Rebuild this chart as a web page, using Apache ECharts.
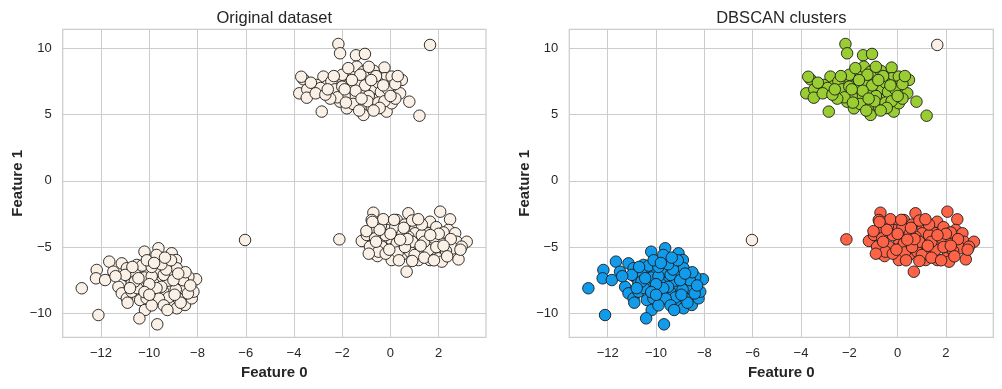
<!DOCTYPE html>
<html>
<head>
<meta charset="utf-8">
<script src="https://cdn.jsdelivr.net/npm/echarts@6/dist/echarts.min.js"></script>
<style>
html,body{margin:0;padding:0;background:#ffffff;}
#chart{width:1002px;height:389px;}
</style>
</head>
<body>
<div id="chart"></div>
<script>
// ---- data ----
const titles = ['Original dataset', 'DBSCAN clusters'];
const xTicks = [-12, -10, -8, -6, -4, -2, 0, 2];
const yTicks = [-10, -5, 0, 5, 10];
const xName = 'Feature 0';
const yName = 'Feature 1';

// cluster at top (green on the right plot)
const clusterTop = [
  [-2.16,10.32],[-2.09,9.62],[-1.43,9.47],[-1.06,9.57],
  [-3.61,7.66],[-3.70,7.85],[-3.78,6.6],[-3.45,6.9],[-3.47,6.27],[-2.85,5.22],[-2.78,7.86],[-2.64,7.15],
  [-2.57,6.72],[-3.06,7.23],[-2.23,7.36],[-2.09,6.6],[-2.09,5.97],[-1.81,5.47],[-1.95,7.61],
  [-1.81,6.78],[-1.61,8.11],[-1.54,7.86],[-1.40,8.61],[-1.12,8.23],[-1.47,7.1],[-1.40,6.48],
  [-1.33,5.97],[-1.12,6.72],[-1.12,5.59],[-1.12,4.97],[-0.85,7.23],[-0.78,5.59],[-0.64,6.98],
  [-0.64,6.1],[-0.43,8.11],[-0.25,8.54],[-0.23,7.74],[-0.30,6.35],[-0.16,5.22],[0.05,7.86],
  [-0.02,7.1],[0.12,6.55],[0.05,5.85],[0.47,7.61],[0.40,6.6],[0.78,5.97],[1.20,4.91],
  [-2.9,7.0],[-2.45,7.5],[-2.3,6.9],[-1.7,7.3],[-1.3,7.5],[-1.0,7.9],[-0.9,6.4],[-0.5,7.4],
  [-0.4,6.7],[-1.6,6.2],[-1.9,6.4],[-2.2,6.3],[-0.7,8.3],[-1.25,8.0],[-0.1,6.9],[0.2,7.3],
  [-3.3,7.4],[-2.5,6.2],[-1.55,5.8],[-0.95,6.0],[-0.5,5.9],[-2.0,8.0],[-1.75,8.5],[-0.9,8.6],
  [0.3,7.9],[-3.1,6.6],[-2.7,6.5],[-1.05,7.2],[-0.25,6.0],[-1.45,6.8],[-0.6,7.9],[-2.35,7.9],
  [-1.85,5.9],[-0.45,5.5],[0.2,6.2],[-1.2,6.2],[-0.8,7.6],[-2.0,7.1],[-1.6,7.6],[-0.3,7.2],
  [-1.3,5.3],[-2.6,6.9],[0.0,6.4],[-0.7,5.3],[-1.9,6.9]
];

// cluster at bottom right (red on the right plot)
const clusterRight = [
  [-2.12,-4.42],[-1.19,-4.54],[-0.71,-2.41],[-0.78,-2.96],[-0.71,-3.58],[-0.98,-4.09],[-0.64,-4.34],
  [-0.71,-5.47],[-0.54,-5.68],[-0.36,-4.97],[-0.08,-3.21],[0.26,-2.96],[0.74,-2.45],[0.40,-3.71],
  [0.05,-4.47],[0.12,-5.09],[0.47,-5.6],[0.67,-6.86],[1.02,-3.46],[1.02,-3.96],[1.09,-4.72],
  [1.16,-5.98],[1.23,-5.35],[1.64,-3.09],[1.57,-3.96],[1.64,-4.85],[1.64,-5.98],[1.98,-5.85],
  [2.06,-2.33],[2.47,-2.91],[2.40,-3.71],[2.13,-4.72],[2.13,-6.1],[2.68,-3.96],[2.75,-4.6],
  [2.61,-5.09],[2.82,-5.93],[3.16,-4.6],[2.95,-4.97],[-0.85,-4.97],[-0.50,-5.35],[0.74,-4.22],
  [0.26,-4.72],[-0.16,-3.71],[1.57,-5.22],[0.81,-5.35],[0.05,-5.98],
  [-0.4,-3.4],[-0.2,-4.1],[0.2,-3.5],[0.6,-3.3],[0.5,-4.0],[0.9,-4.6],[1.3,-4.1],[1.4,-4.6],
  [1.8,-4.3],[1.9,-3.5],[2.2,-3.9],[2.3,-5.3],[1.9,-5.0],[0.3,-5.4],[-0.2,-5.5],[0.6,-5.0],
  [1.0,-5.6],[1.4,-5.8],[-0.9,-5.5],[-0.6,-4.6],[0.0,-4.0],[0.9,-3.0],[1.3,-3.3],[2.0,-4.0],
  [2.5,-4.4],[-0.3,-2.9],[0.35,-6.0],[0.9,-6.05],[1.8,-6.0],[2.2,-4.9],[2.9,-5.2],[-0.45,-3.7],
  [0.15,-2.95],[-1.0,-3.8],[1.15,-2.9],[0.7,-4.4],[1.65,-4.1],[-0.75,-3.1],[2.35,-5.7],
  [0.4,-4.45],[-0.05,-5.2],[1.25,-4.9],[0.55,-3.55]
];

// cluster at bottom left (blue on the right plot)
const clusterLeft = [
  [-12.80,-8.11],[-12.11,-10.13],[-12.18,-6.73],[-12.21,-7.36],[-11.83,-7.49],[-11.66,-6.1],
  [-11.49,-6.86],[-11.14,-6.23],[-11.28,-8.0],[-11.14,-8.49],[-10.93,-8.87],[-10.93,-6.6],
  [-10.87,-7.24],[-10.73,-7.74],[-10.73,-8.37],[-10.38,-9.0],[-10.20,-5.35],[-10.38,-6.73],
  [-10.31,-7.61],[-10.18,-9.75],[-10.41,-10.38],[-10.04,-6.98],[-9.97,-8.37],[-9.83,-9.0],
  [-9.62,-5.09],[-9.62,-6.1],[-9.67,-10.83],[-9.55,-7.49],[-9.69,-6.86],[-9.07,-5.47],
  [-8.89,-5.98],[-9.14,-6.48],[-9.07,-7.11],[-9.28,-7.74],[-9.14,-8.37],[-9.14,-9.25],
  [-8.86,-9.62],[-8.72,-7.74],[-8.59,-8.11],[-8.80,-8.87],[-8.52,-9.37],[-8.24,-8.87],
  [-8.17,-8.37],[-8.06,-7.43],[-8.38,-7.24],[-10.52,-6.35],[-9.83,-7.74],[-9.42,-8.37],
  [-10.11,-8.87],[-8.86,-6.6],
  [-10.6,-7.0],[-10.2,-7.3],[-9.9,-7.2],[-9.4,-7.1],[-9.3,-6.7],[-9.5,-8.0],[-9.7,-8.1],
  [-10.0,-7.8],[-10.5,-8.1],[-10.6,-7.6],[-9.2,-8.8],[-8.9,-8.2],[-8.6,-7.5],[-8.4,-8.5],
  [-9.0,-7.5],[-10.3,-6.4],[-9.9,-6.5],[-9.5,-6.3],[-10.8,-8.1],[-9.6,-8.9],[-10.2,-8.4],
  [-11.0,-7.1],[-8.7,-9.2],[-9.4,-9.4],[-9.9,-9.4],[-8.5,-6.9],[-9.1,-6.0],[-10.1,-6.0],
  [-10.7,-6.5],[-8.3,-7.9],[-9.7,-5.6],[-11.4,-7.2],[-10.9,-9.2],[-9.25,-9.75],[-8.95,-8.6],
  [-10.45,-7.35],[-9.8,-6.2],[-10.0,-8.6],[-8.8,-7.0],[-9.35,-5.8]
];

// points labelled as noise
const noisePoints = [[1.64,10.25],[-6.03,-4.47]];

const allPoints = clusterTop.concat(clusterRight, clusterLeft, noisePoints);

// ---- styling ----
const FONT = '"Liberation Sans", Arial, sans-serif';
const TXT = '#262626';
const GRIDC = '#cccccc';
const NOISE = '#faf0e6';
const EDGE = '#1c1c1c';
const xRange = [-13.59, 3.96];
const yRange = [-11.81, 11.43];
const fmt = v => (v < 0 ? '\u2212' : '') + Math.abs(v);

function xAxis(i) {
  return {
    gridIndex: i, type: 'value', min: xRange[0], max: xRange[1],
    axisLine: {show: false},
    axisTick: {show: false, customValues: xTicks},
    axisLabel: {customValues: xTicks, formatter: fmt, fontSize: 13, color: TXT, fontFamily: FONT, margin: 10},
    splitLine: {show: true, lineStyle: {color: GRIDC, width: 1}},
    name: xName, nameLocation: 'middle', nameGap: 28.5,
    nameTextStyle: {fontWeight: 'bold', fontSize: 15, color: TXT, fontFamily: FONT}
  };
}
function yAxis(i) {
  return {
    gridIndex: i, type: 'value', min: yRange[0], max: yRange[1],
    axisLine: {show: false},
    axisTick: {show: false, customValues: yTicks},
    axisLabel: {customValues: yTicks, formatter: fmt, fontSize: 13, color: TXT, fontFamily: FONT, margin: 11},
    splitLine: {show: true, lineStyle: {color: GRIDC, width: 1}},
    name: yName, nameLocation: 'middle', nameGap: 26, nameRotate: 90,
    nameTextStyle: {fontWeight: 'bold', fontSize: 15, color: TXT, fontFamily: FONT}
  };
}
function scatter(i, data, color, name) {
  return {
    type: 'scatter', name: name, xAxisIndex: i, yAxisIndex: i, data: data,
    symbolSize: 11.5,
    itemStyle: {color: color, borderColor: EDGE, borderWidth: 0.9, opacity: 1},
    emphasis: {disabled: true}, animation: false
  };
}

const chart = echarts.init(document.getElementById('chart'), null, {renderer: 'canvas'});
chart.setOption({
  backgroundColor: '#ffffff',
  animation: false,
  title: [
    {text: titles[0], left: 274.3, top: 10, textAlign: 'center', padding: 0,
     textStyle: {fontSize: 16.5, fontWeight: 'normal', color: TXT, fontFamily: FONT}},
    {text: titles[1], left: 781.3, top: 10, textAlign: 'center', padding: 0,
     textStyle: {fontSize: 16.5, fontWeight: 'normal', color: TXT, fontFamily: FONT}}
  ],
  grid: [
    {left: 62.7, top: 29.3, width: 423.3, height: 308, show: true, borderColor: GRIDC, borderWidth: 1.25, backgroundColor: '#ffffff', containLabel: false},
    {left: 569.3, top: 29.3, width: 424, height: 308, show: true, borderColor: GRIDC, borderWidth: 1.25, backgroundColor: '#ffffff', containLabel: false}
  ],
  xAxis: [xAxis(0), xAxis(1)],
  yAxis: [yAxis(0), yAxis(1)],
  series: [
    scatter(0, allPoints, NOISE, 'all'),
    scatter(1, noisePoints, NOISE, 'noise'),
    scatter(1, clusterLeft, '#119beb', 'cluster 0'),
    scatter(1, clusterRight, '#ff6347', 'cluster 1'),
    scatter(1, clusterTop, '#9acd32', 'cluster 2')
  ]
});
</script>
</body>
</html>
